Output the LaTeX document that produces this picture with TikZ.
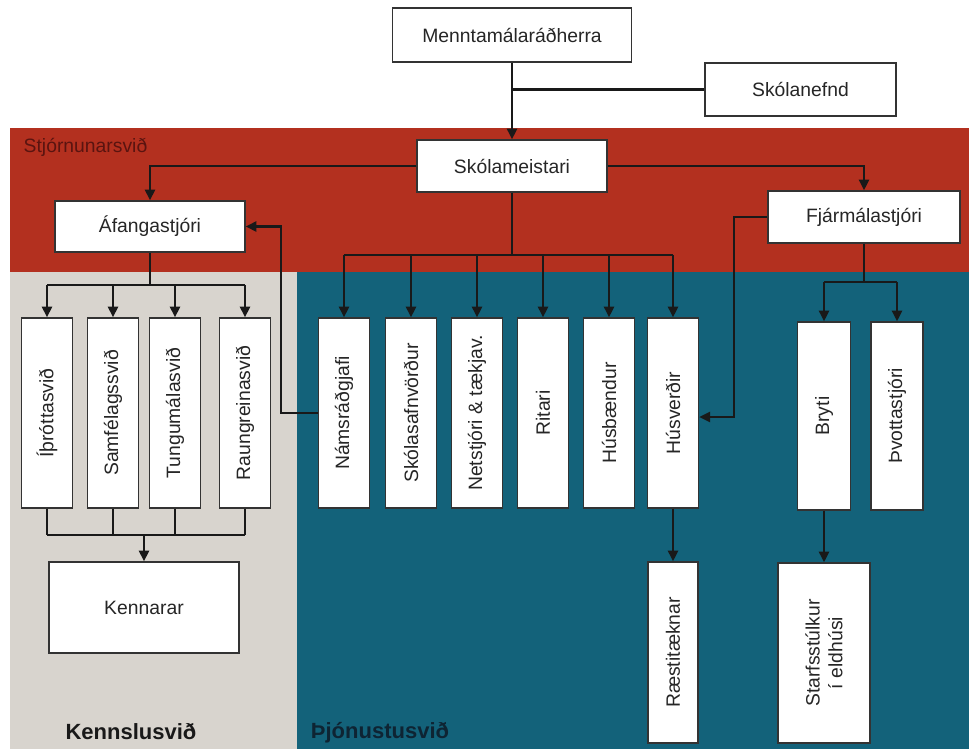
\documentclass[tikz,border=0pt]{standalone}
\usepackage{fontspec}
\setmainfont{Liberation Sans}
\usetikzlibrary{arrows.meta}
\definecolor{stjorn}{HTML}{B3301F}
\definecolor{stjorntext}{HTML}{5A1410}
\definecolor{kennsla}{HTML}{D8D4CE}
\definecolor{thjon}{HTML}{13627A}
\definecolor{thjontext}{HTML}{0E2433}
\tikzset{
  box/.style={draw=black!80, line width=1pt, fill=white, inner sep=0pt, align=center,
    text=black!85, font=\fontsize{14.5}{17}\selectfont},
  vbox/.style={box, rotate=90, minimum width=142.5pt, minimum height=38.5pt},
  link/.style={line width=1.6pt, black!90},
  tip/.tip={Triangle[length=8pt,width=7.5pt]},
  arr/.style={link, -tip},
  area/.style={font=\bfseries\fontsize{16.5}{19}\selectfont}
}
\begin{document}
\begin{tikzpicture}[x=0.75pt, y=-0.75pt]
  % svid
  \fill[white] (0,0) rectangle (969,749);
  \fill[stjorn] (10,128) rectangle (969,272);
  \fill[kennsla] (10,272) rectangle (297,749);
  \fill[thjon] (297,272) rectangle (969,749);
  \node[anchor=west, text=stjorntext, font=\fontsize{14.5}{17}\selectfont] (stjornlbl) at (19,147) {Stjórnunarsvið};
  \node[area, text=black!90] (kennlbl) at (131,732) {Kennslusvið};
  \node[area, text=thjontext] (thjonlbl) at (380,733) {Þjónustusvið};

  % efsta lag
  \node[box, minimum width=179.25pt, minimum height=40.5pt] (radherra) at (512,35) {Menntamálaráðherra};
  \node[box, minimum width=143.25pt, minimum height=39.75pt] (nefnd) at (800.5,89.5) {Skólanefnd};
  \node[box, minimum width=142.5pt, minimum height=39pt] (meistari) at (512,166) {Skólameistari};
  \node[box, minimum width=142.5pt, minimum height=38.25pt] (afangi) at (150,226.5) {Áfangastjóri};
  \node[box, minimum width=144pt, minimum height=39pt] (fjarmal) at (864,217) {Fjármálastjóri};

  % kennslusvid
  \node[vbox] (ithrott) at (47,413) {Íþróttasvið};
  \node[vbox] (samfelag) at (113,413) {Samfélagssvið};
  \node[vbox] (tunga) at (175,413) {Tungumálasvið};
  \node[vbox] (raungrein) at (245,413) {Raungreinasvið};
  \node[box, minimum width=142.5pt, minimum height=68.25pt] (kennarar) at (144,607.5) {Kennarar};

  % thjonustusvid
  \node[vbox] (namsrad) at (344,413) {Námsráðgjafi};
  \node[vbox] (safn) at (411,413) {Skólasafnvörður};
  \node[vbox] (net) at (477,413) {Netstjóri \& tækjav.};
  \node[vbox] (ritari) at (543,413) {Ritari};
  \node[vbox] (husb) at (609,413) {Húsbændur};
  \node[vbox] (husv) at (673,413) {Húsverðir};
  \node[vbox, minimum width=135.75pt, minimum height=37.5pt] (raesti) at (673,652.5) {Ræstitæknar};
  \node[vbox, minimum width=141pt, minimum height=39.75pt] (bryti) at (824,416) {Bryti};
  \node[vbox, minimum width=141pt, minimum height=39pt] (thvottur) at (897,416) {Þvottastjóri};
  \node[vbox, minimum width=135pt, minimum height=69pt] (starfs) at (824,653) {Starfsstúlkur\\í eldhúsi};

  % tengingar
  \draw[arr] (radherra.south) -- (meistari.north);
  \draw[link] (nefnd.west) -- (radherra.south |- nefnd.west);
  \draw[arr] (meistari.west) -| (afangi.north);
  \draw[arr] (meistari.east) -| (fjarmal.north);
  % afangastjori og svidin
  \draw[link] (afangi.south) -- (afangi.south |- 0,285);
  \draw[link] (ithrott.east |- 0,285) -- (raungrein.east |- 0,285);
  \foreach \b in {ithrott,samfelag,tunga,raungrein}
    \draw[arr] (\b.east |- 0,285) -- (\b.east);
  \foreach \b in {ithrott,samfelag,tunga,raungrein}
    \draw[link] (\b.west) -- (\b.west |- 0,535);
  \draw[link] (ithrott.west |- 0,535) -- (raungrein.west |- 0,535);
  \draw[arr] (kennarar.north |- 0,535) -- (kennarar.north);
  % skolameistari og thjonustan
  \draw[link] (meistari.south) -- (meistari.south |- 0,255);
  \draw[link] (namsrad.east |- 0,255) -- (husv.east |- 0,255);
  \foreach \b in {namsrad,safn,net,ritari,husb,husv}
    \draw[arr] (\b.east |- 0,255) -- (\b.east);
  \draw[arr, tip-] (afangi.east) -| (281,413) -- (namsrad.north);
  \draw[arr] (fjarmal.west) -| (734,417) -- (husv.south |- 0,417);
  \draw[arr] (husv.west) -- (raesti.east);
  % fjarmalastjori
  \draw[link] (fjarmal.south) -- (fjarmal.south |- 0,282);
  \draw[link] (bryti.east |- 0,282) -- (thvottur.east |- 0,282);
  \foreach \b in {bryti,thvottur}
    \draw[arr] (\b.east |- 0,282) -- (\b.east);
  \draw[arr] (bryti.west) -- (starfs.east);
\end{tikzpicture}
\end{document}
